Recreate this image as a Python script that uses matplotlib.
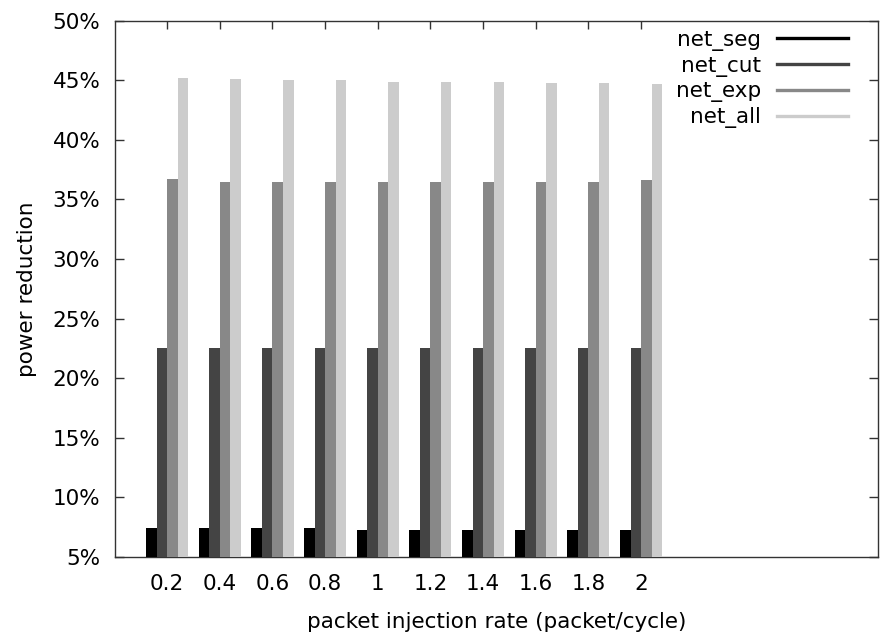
"""Power reduction vs packet injection rate, gnuplot-style grouped bars."""
import matplotlib
matplotlib.use("Agg")
import matplotlib.pyplot as plt
from matplotlib.ticker import FuncFormatter
import numpy as np

rates = ["0.2", "0.4", "0.6", "0.8", "1", "1.2", "1.4", "1.6", "1.8", "2"]
net_seg = [7.41, 7.41, 7.41, 7.41, 7.27, 7.27, 7.27, 7.27, 7.27, 7.27]
net_cut = [22.5, 22.5, 22.5, 22.5, 22.5, 22.5, 22.5, 22.5, 22.5, 22.5]
net_exp = [36.7, 36.46, 36.46, 36.46, 36.46, 36.46, 36.46, 36.46, 36.46, 36.6]
net_all = [45.19, 45.1, 44.99, 44.99, 44.88, 44.88, 44.88, 44.77, 44.77, 44.69]

series = [("net_seg", net_seg, "#000000"),
          ("net_cut", net_cut, "#444444"),
          ("net_exp", net_exp, "#888888"),
          ("net_all", net_all, "#cccccc")]

plt.rcParams["font.family"] = ["DejaVu Sans"]
FS = 15.5

fig = plt.figure(figsize=(8.83, 6.33), dpi=100)
ax = fig.add_axes([115 / 883, 1 - 557 / 633, (878 - 115) / 883, (557 - 20.7) / 633])

x = np.arange(len(rates))
width = 0.2
handles = []
for i, (name, vals, color) in enumerate(series):
    ax.bar(x + (i - 1.5) * width, np.array(vals) - 5, width, bottom=5,
           color=color, edgecolor="none", zorder=3)
    h, = ax.plot([], [], color=color, linewidth=2.4, label=name)
    handles.append(h)

ax.set_xlim(-0.99, 13.5)
ax.set_ylim(5, 50)
ax.set_yticks(np.arange(5, 51, 5))
ax.yaxis.set_major_formatter(FuncFormatter(lambda v, p: f"{v:.0f}%"))
ax.set_xticks(x)
ax.set_xticklabels(rates)

for s in ax.spines.values():
    s.set_color("#333333")
    s.set_linewidth(1.0)
    s.set_zorder(2)

ax.tick_params(axis="y", direction="in", length=6.5, width=1.0, color="#333333",
               right=True, labelsize=FS, pad=10.5)
ax.tick_params(axis="x", direction="in", length=5.5, width=1.0, color="#333333",
               top=True, bottom=False, labelsize=FS, pad=12)

ax.set_xlabel("packet injection rate (packet/cycle)", fontsize=FS, labelpad=13)
ax.set_ylabel("power reduction", fontsize=FS, labelpad=11)

ax.legend(handles=handles, loc="upper right", bbox_to_anchor=(848 / 883, 1 - 30 / 633),
          bbox_transform=fig.transFigure, frameon=False, markerfirst=False,
          fontsize=FS, handlelength=3.3, handletextpad=0.75, labelspacing=0.22,
          borderpad=0, borderaxespad=0)

fig.savefig("out.png", dpi=100)
